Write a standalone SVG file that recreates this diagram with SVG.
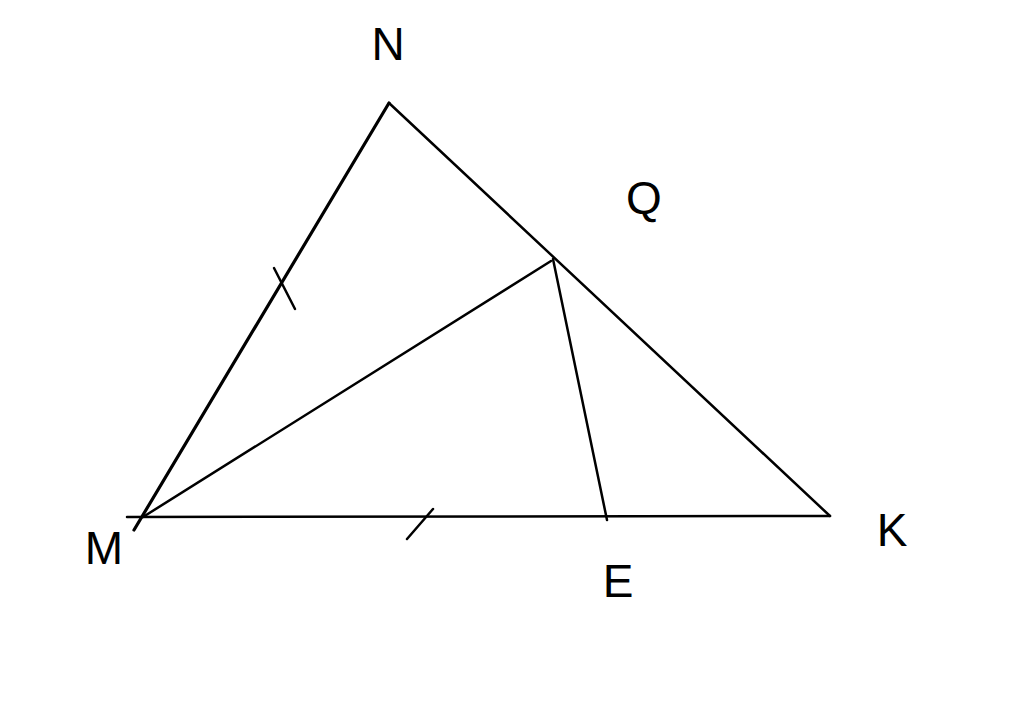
<svg xmlns="http://www.w3.org/2000/svg" width="1024" height="713" viewBox="0 0 1024 713">
<style>
.l{stroke:#000;stroke-width:2.5;fill:none;stroke-linecap:round}
.t{font-family:"Liberation Sans",Arial,sans-serif;font-size:46px;fill:#000;text-anchor:middle}
</style>
<rect width="1024" height="713" fill="#fff"/>
<g id="connectors">
<line class="l" x1="134" y1="530" x2="389" y2="103" style="stroke-width:3.2"/>
<line class="l" x1="389" y1="103" x2="830" y2="516"/>
<line class="l" x1="127" y1="517" x2="830" y2="516"/>
<line class="l" x1="143" y1="517" x2="551" y2="261"/>
<line class="l" x1="553" y1="259" x2="607" y2="520"/>
<line class="l" x1="274" y1="268" x2="295" y2="309"/>
<line class="l" x1="407" y1="539" x2="433" y2="509"/>
</g>
<g id="N"><text class="t" x="388" y="60">N</text></g>
<g id="Q"><text class="t" x="644" y="214">Q</text></g>
<g id="M"><text class="t" x="104" y="564">M</text></g>
<g id="K"><text class="t" x="892" y="546">K</text></g>
<g id="E"><text class="t" x="618" y="597">E</text></g>
</svg>
